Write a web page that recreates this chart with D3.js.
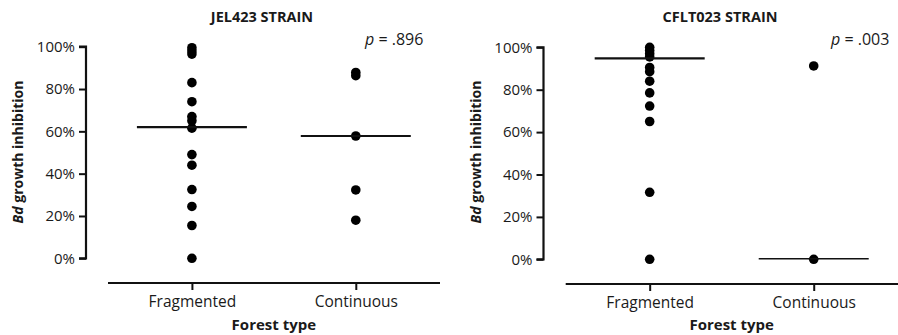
<!DOCTYPE html>
<html><head><meta charset="utf-8">
<script src="https://cdn.jsdelivr.net/npm/d3@7"></script>
<style>body{margin:0;background:#fff}svg{display:block}text{font-family:"Open Sans",sans-serif;fill:#1a1a1a}</style>
</head><body>
<script>
const categories = ["Fragmented", "Continuous"];
const yTicks = [0, 20, 40, 60, 80, 100];
const titles = ["JEL423 STRAIN", "CFLT023 STRAIN"];
const pLabels = [".896", ".003"];
// JEL423 strain
const jelFragmented = [99.5, 98, 96.5, 83, 74, 67, 65, 61.5, 49, 44, 32.5, 24.5, 15.5, 0];
const jelContinuous = [87.8, 86.3, 57.8, 32.3, 18];
const jelMedians = [62, 57.8];
// CFLT023 strain
const cfltFragmented = [100, 98.5, 97, 95.5, 90.5, 88.5, 84, 78.5, 72.3, 65, 31.6, 0];
const cfltContinuous = [91.2, 0];
const cfltMedians = [94.8, 0.3];

const panels = [
  {title: titles[0], p: pLabels[0], series: [jelFragmented, jelContinuous], medians: jelMedians,
   yAxisX: 86, yTop: 46.7, yBot: 258.3, xL: 108, xR: 440, xAxisY: 283, titleX: 262, ylabX: 23, pX: 365, medW: [2.2, 2.2]},
  {title: titles[1], p: pLabels[1], series: [cfltFragmented, cfltContinuous], medians: cfltMedians,
   yAxisX: 543.5, yTop: 47.3, yBot: 259.3, xL: 565.7, xR: 898, xAxisY: 284, titleX: 720, ylabX: 481, pX: 831, medW: [2.2, 1.5]}
];

const svg = d3.select("body").append("svg").attr("width", 898).attr("height", 335);

panels.forEach(P => {
  const g = svg.append("g");
  const y = d3.scaleLinear().domain([0, 100]).range([P.yBot, P.yTop]);
  const x = d3.scalePoint().domain(categories).range([P.xL, P.xR - 0.3]).padding(0.512);

  const ya = g.append("g").attr("transform", `translate(${P.yAxisX},0)`)
    .call(d3.axisLeft(y).tickValues(yTicks).tickFormat(d => d + "%").tickSize(7).tickPadding(4));
  ya.select(".domain").attr("stroke", "#111").attr("stroke-width", 2.2).attr("d", `M-7,${y(100)}H0V${y(0)}H-7`);
  ya.selectAll(".tick line").attr("stroke", "#111").attr("stroke-width", 2);
  ya.selectAll(".tick text").attr("font-size", 15).attr("font-family", "Open Sans").attr("fill", "#1a1a1a");

  const xa = g.append("g").attr("transform", `translate(0,${P.xAxisY})`)
    .call(d3.axisBottom(x).tickSize(7).tickPadding(6));
  xa.select(".domain").attr("stroke", "#111").attr("stroke-width", 2.2).attr("d", `M${P.xL},0H${P.xR}`);
  xa.selectAll(".tick line").attr("stroke", "#111").attr("stroke-width", 2);
  xa.selectAll(".tick text").attr("font-size", 15.5).attr("font-family", "Open Sans").attr("fill", "#1a1a1a");

  P.series.forEach((vals, i) => {
    g.selectAll(null).data(vals).enter().append("circle")
      .attr("cx", x(categories[i])).attr("cy", d => y(d)).attr("r", 4.8).attr("fill", "#000");
    g.append("line").attr("x1", x(categories[i]) - 55).attr("x2", x(categories[i]) + 55)
      .attr("y1", y(P.medians[i])).attr("y2", y(P.medians[i]))
      .attr("stroke", "#111").attr("stroke-width", P.medW[i]);
  });

  g.append("text").attr("x", P.titleX).attr("y", 22).attr("text-anchor", "middle")
    .attr("font-size", 14.5).attr("font-weight", "bold").text(P.title);
  const pt = g.append("text").attr("x", P.pX).attr("y", 45).attr("font-size", 16);
  pt.append("tspan").attr("font-style", "italic").text("p");
  pt.append("tspan").text(" = " + P.p);

  const yl = g.append("text").attr("transform", `translate(${P.ylabX},152) rotate(-90)`)
    .attr("text-anchor", "middle").attr("font-size", 14).attr("font-weight", "bold");
  yl.append("tspan").attr("font-style", "italic").text("Bd");
  yl.append("tspan").text(" growth inhibition");

  g.append("text").attr("x", (x(categories[0]) + x(categories[1])) / 2).attr("y", 330)
    .attr("text-anchor", "middle").attr("font-size", 15).attr("font-weight", "bold").text("Forest type");
});
</script>
</body></html>
